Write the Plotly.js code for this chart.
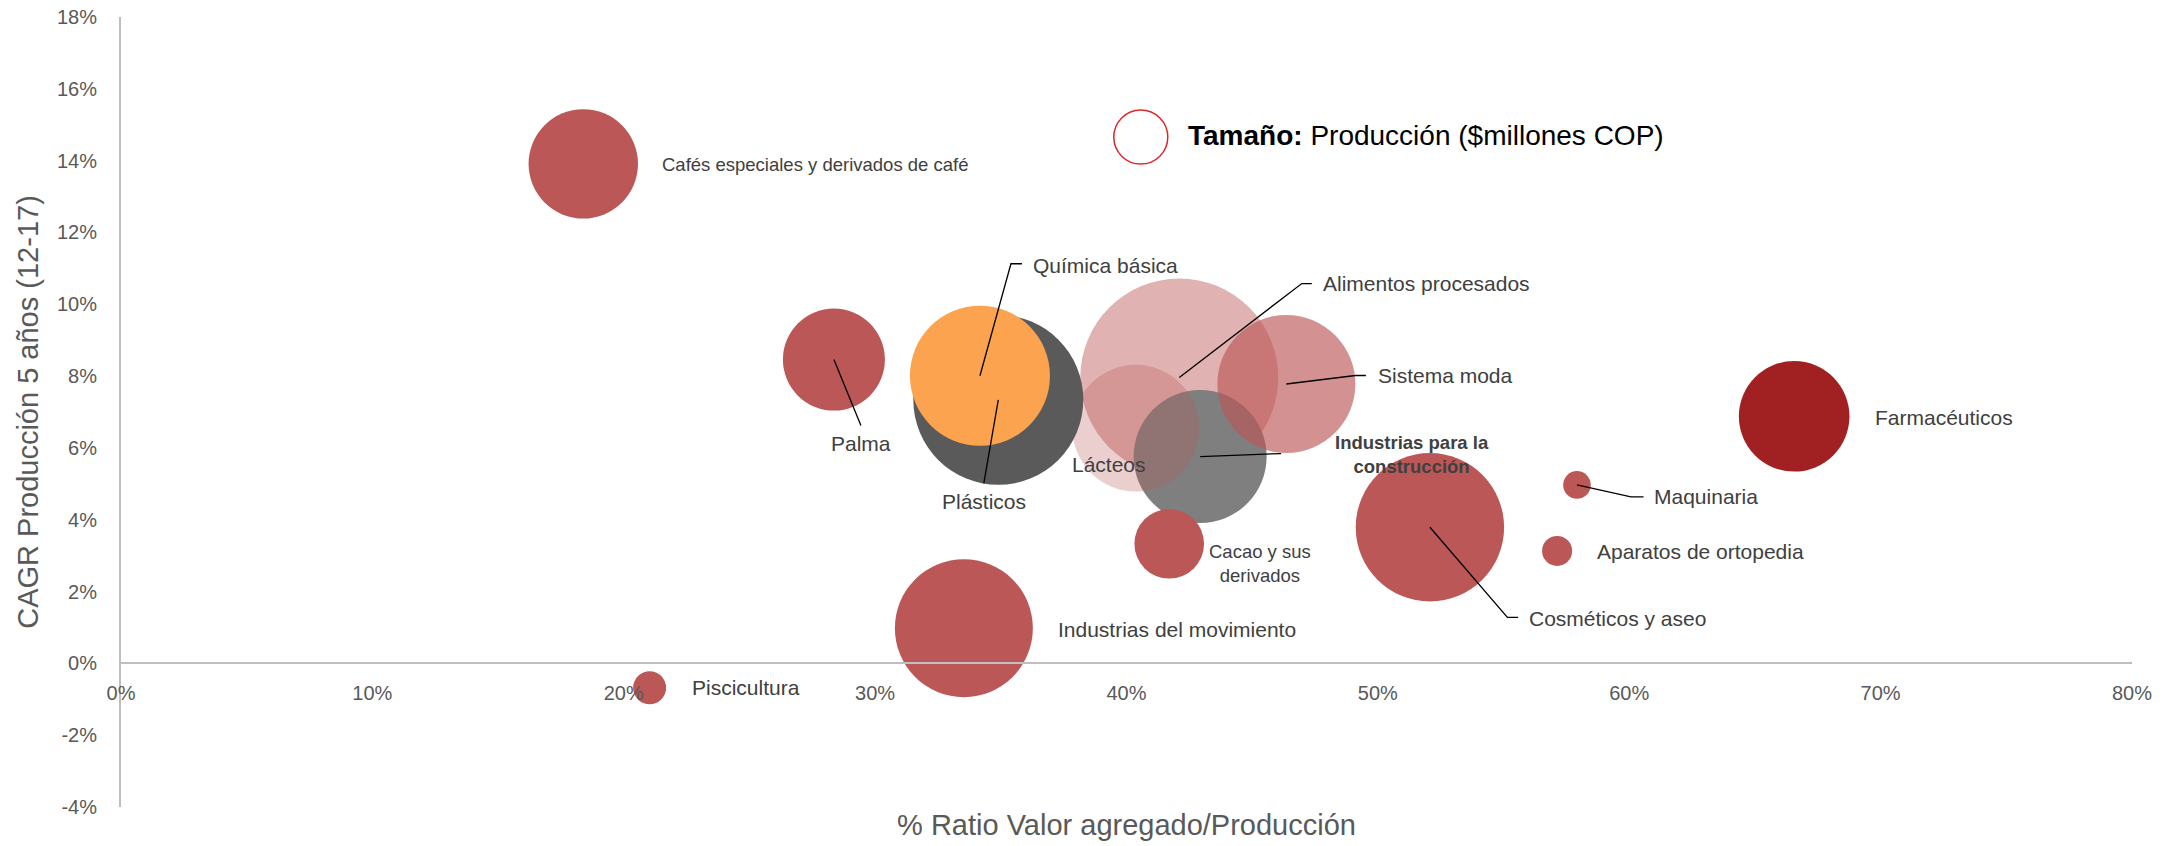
<!DOCTYPE html>
<html><head><meta charset="utf-8">
<script src="https://cdn.plot.ly/plotly-3.0.1.min.js"></script>
<style>html,body{margin:0;padding:0;background:#fff}#chart{width:2172px;height:846px}</style>
</head><body><div id="chart"></div>
<script>
// ---- Data (ordered in drawing order, bottom to top) ----
const sectores = ['Alimentos procesados','Industrias para la construcción','Lácteos','Sistema moda','Plásticos','Química básica','Cafés especiales y derivados de café','Palma','Cacao y sus derivados','Industrias del movimiento','Piscicultura','Cosméticos y aseo','Maquinaria','Aparatos de ortopedia','Farmacéuticos'];
const etiquetas = ['Alimentos procesados','<b>Industrias para la<br>construcción</b>','Lácteos','Sistema moda','Plásticos','Química básica','Cafés especiales y derivados de café','Palma','Cacao y sus<br>derivados','Industrias del movimiento','Piscicultura','Cosméticos y aseo','Maquinaria','Aparatos de ortopedia','Farmacéuticos'];
const ratioVA = [0.4210,0.4293,0.4037,0.4636,0.3490,0.3417,0.1839,0.2836,0.4170,0.3353,0.2103,0.5207,0.5792,0.5713,0.6656];
const cagr = [0.0796,0.0576,0.0655,0.0778,0.0734,0.0801,0.1391,0.0846,0.0333,0.0098,-0.0068,0.0379,0.0497,0.0313,0.0688];
const produccion = [30000000,13540000,12270000,14570000,22120000,15000000,9160000,7960000,3710000,14570000,833000,16850000,583000,689000,9360000];
const xTickVals = [0,0.1,0.2,0.3,0.4,0.5,0.6,0.7,0.8];
const xTickText = ['0%','10%','20%','30%','40%','50%','60%','70%','80%'];
const yTickVals = [-0.04,-0.02,0,0.02,0.04,0.06,0.08,0.10,0.12,0.14,0.16,0.18];
const yTickText = ['-4%','-2%','0%','2%','4%','6%','8%','10%','12%','14%','16%','18%'];

// ---- Styles ----
const red = 'rgb(187,87,86)';
const colores = ['rgba(187,87,86,0.46)','#7f7f7f','rgba(187,87,86,0.29)','rgba(187,87,86,0.65)','#5a5a5a','#fca34f',red,red,red,red,red,red,red,red,'#a12022'];
// label placement: [dx, dy (screen px, down positive), xanchor, fontSize, leader points]
const lbl = [
  [141.5,-94,'left',21,[[122.5,-94],[132.5,-94]]],
  [212,-2,'center',18.5,[[81,-3]]],
  [-27,36.5,'center',21,null],
  [89.5,-8.5,'left',21,[[69,-8.5],[79.5,-8.5]]],
  [-14.5,102,'center',21,[[-14.5,83.5]]],
  [51,-110,'left',21,[[31,-112],[42,-112]]],
  [77,1,'left',18.5,null],
  [27,84,'center',21,[[27,66]]],
  [90.7,19.4,'center',18.5,null],
  [92,1,'left',21,null],
  [40,0,'left',21,null],
  [96.8,91.5,'left',21,[[77.5,90.2],[88.2,90.2]]],
  [75,12,'left',21,[[54,12],[66.6,12]]],
  [38,1,'left',21,null],
  [79,1,'left',21,null]
];

const FONT = 'Liberation Sans, Arial, sans-serif';
const trace = {
  type:'scatter', mode:'markers',
  x: ratioVA, y: cagr, text: sectores,
  marker:{size: produccion, sizemode:'area', sizeref: 1530.5, color: colores, opacity:1, line:{width:0}},
  hoverinfo:'text', showlegend:false, cliponaxis:false
};

const annotations = [];
const shapes = [];
sectores.forEach((s,i)=>{
  const c = lbl[i];
  annotations.push({x: ratioVA[i], y: cagr[i], xref:'x', yref:'y', showarrow:false,
    text: etiquetas[i], xshift: c[0], yshift: -c[1], xanchor: c[2], yanchor:'middle',
    font:{family:FONT, size:c[3], color:'#404040'}, align:'center'});
  if (c[4]) {
    let p = 'M0,0';
    c[4].forEach(pt=>{ p += ' L' + pt[0] + ',' + (-pt[1]); });
    shapes.push({type:'path', xref:'x', yref:'y', xsizemode:'pixel', ysizemode:'pixel',
      xanchor: ratioVA[i], yanchor: cagr[i], path: p, line:{color:'#000', width:1.3}});
  }
});
// size key
shapes.push({type:'circle', xref:'paper', yref:'paper', xsizemode:'pixel', ysizemode:'pixel',
  xanchor:0.5071, yanchor:0.848, x0:-27, x1:27, y0:-27, y1:27, line:{color:'#e0262a', width:1.5}, fillcolor:'rgba(0,0,0,0)'});
annotations.push({xref:'paper', yref:'paper', x:0.5294, y:0.85, xanchor:'left', yanchor:'middle', showarrow:false,
  text:'<b>Tamaño:</b> Producción ($millones COP)', font:{family:FONT, size:28, color:'#000'}});

const layout = {
  width:2172, height:846,
  margin:{l:121.4, r:39.8, t:17, b:39.3},
  paper_bgcolor:'#fff', plot_bgcolor:'#fff',
  font:{family:FONT},
  showlegend:false,
  xaxis:{range:[0,0.8], tickvals:xTickVals, ticktext:xTickText, showgrid:false, zeroline:false,
    showline:true, linecolor:'#bfbfbf', linewidth:2, ticks:'', anchor:'free', position:4/22,
    ticklabelstandoff:12, tickfont:{family:FONT, size:20, color:'#595959'},
    title:{text:'% Ratio Valor agregado/Producción', font:{family:FONT, size:29, color:'#595959'}, standoff:110},
    automargin:false},
  yaxis:{range:[-0.04,0.18], tickvals:yTickVals, ticktext:yTickText, showgrid:false, zeroline:false,
    showline:true, linecolor:'#bfbfbf', linewidth:2, ticks:'',
    ticklabelstandoff:18, tickfont:{family:FONT, size:20, color:'#595959'},
    title:{text:'CAGR Producción 5 años (12-17)', font:{family:FONT, size:29, color:'#595959'}, standoff:10},
    automargin:false},
  annotations: annotations,
  shapes: shapes
};
Plotly.newPlot('chart',[trace],layout,{displayModeBar:false, staticPlot:true});
</script></body></html>
